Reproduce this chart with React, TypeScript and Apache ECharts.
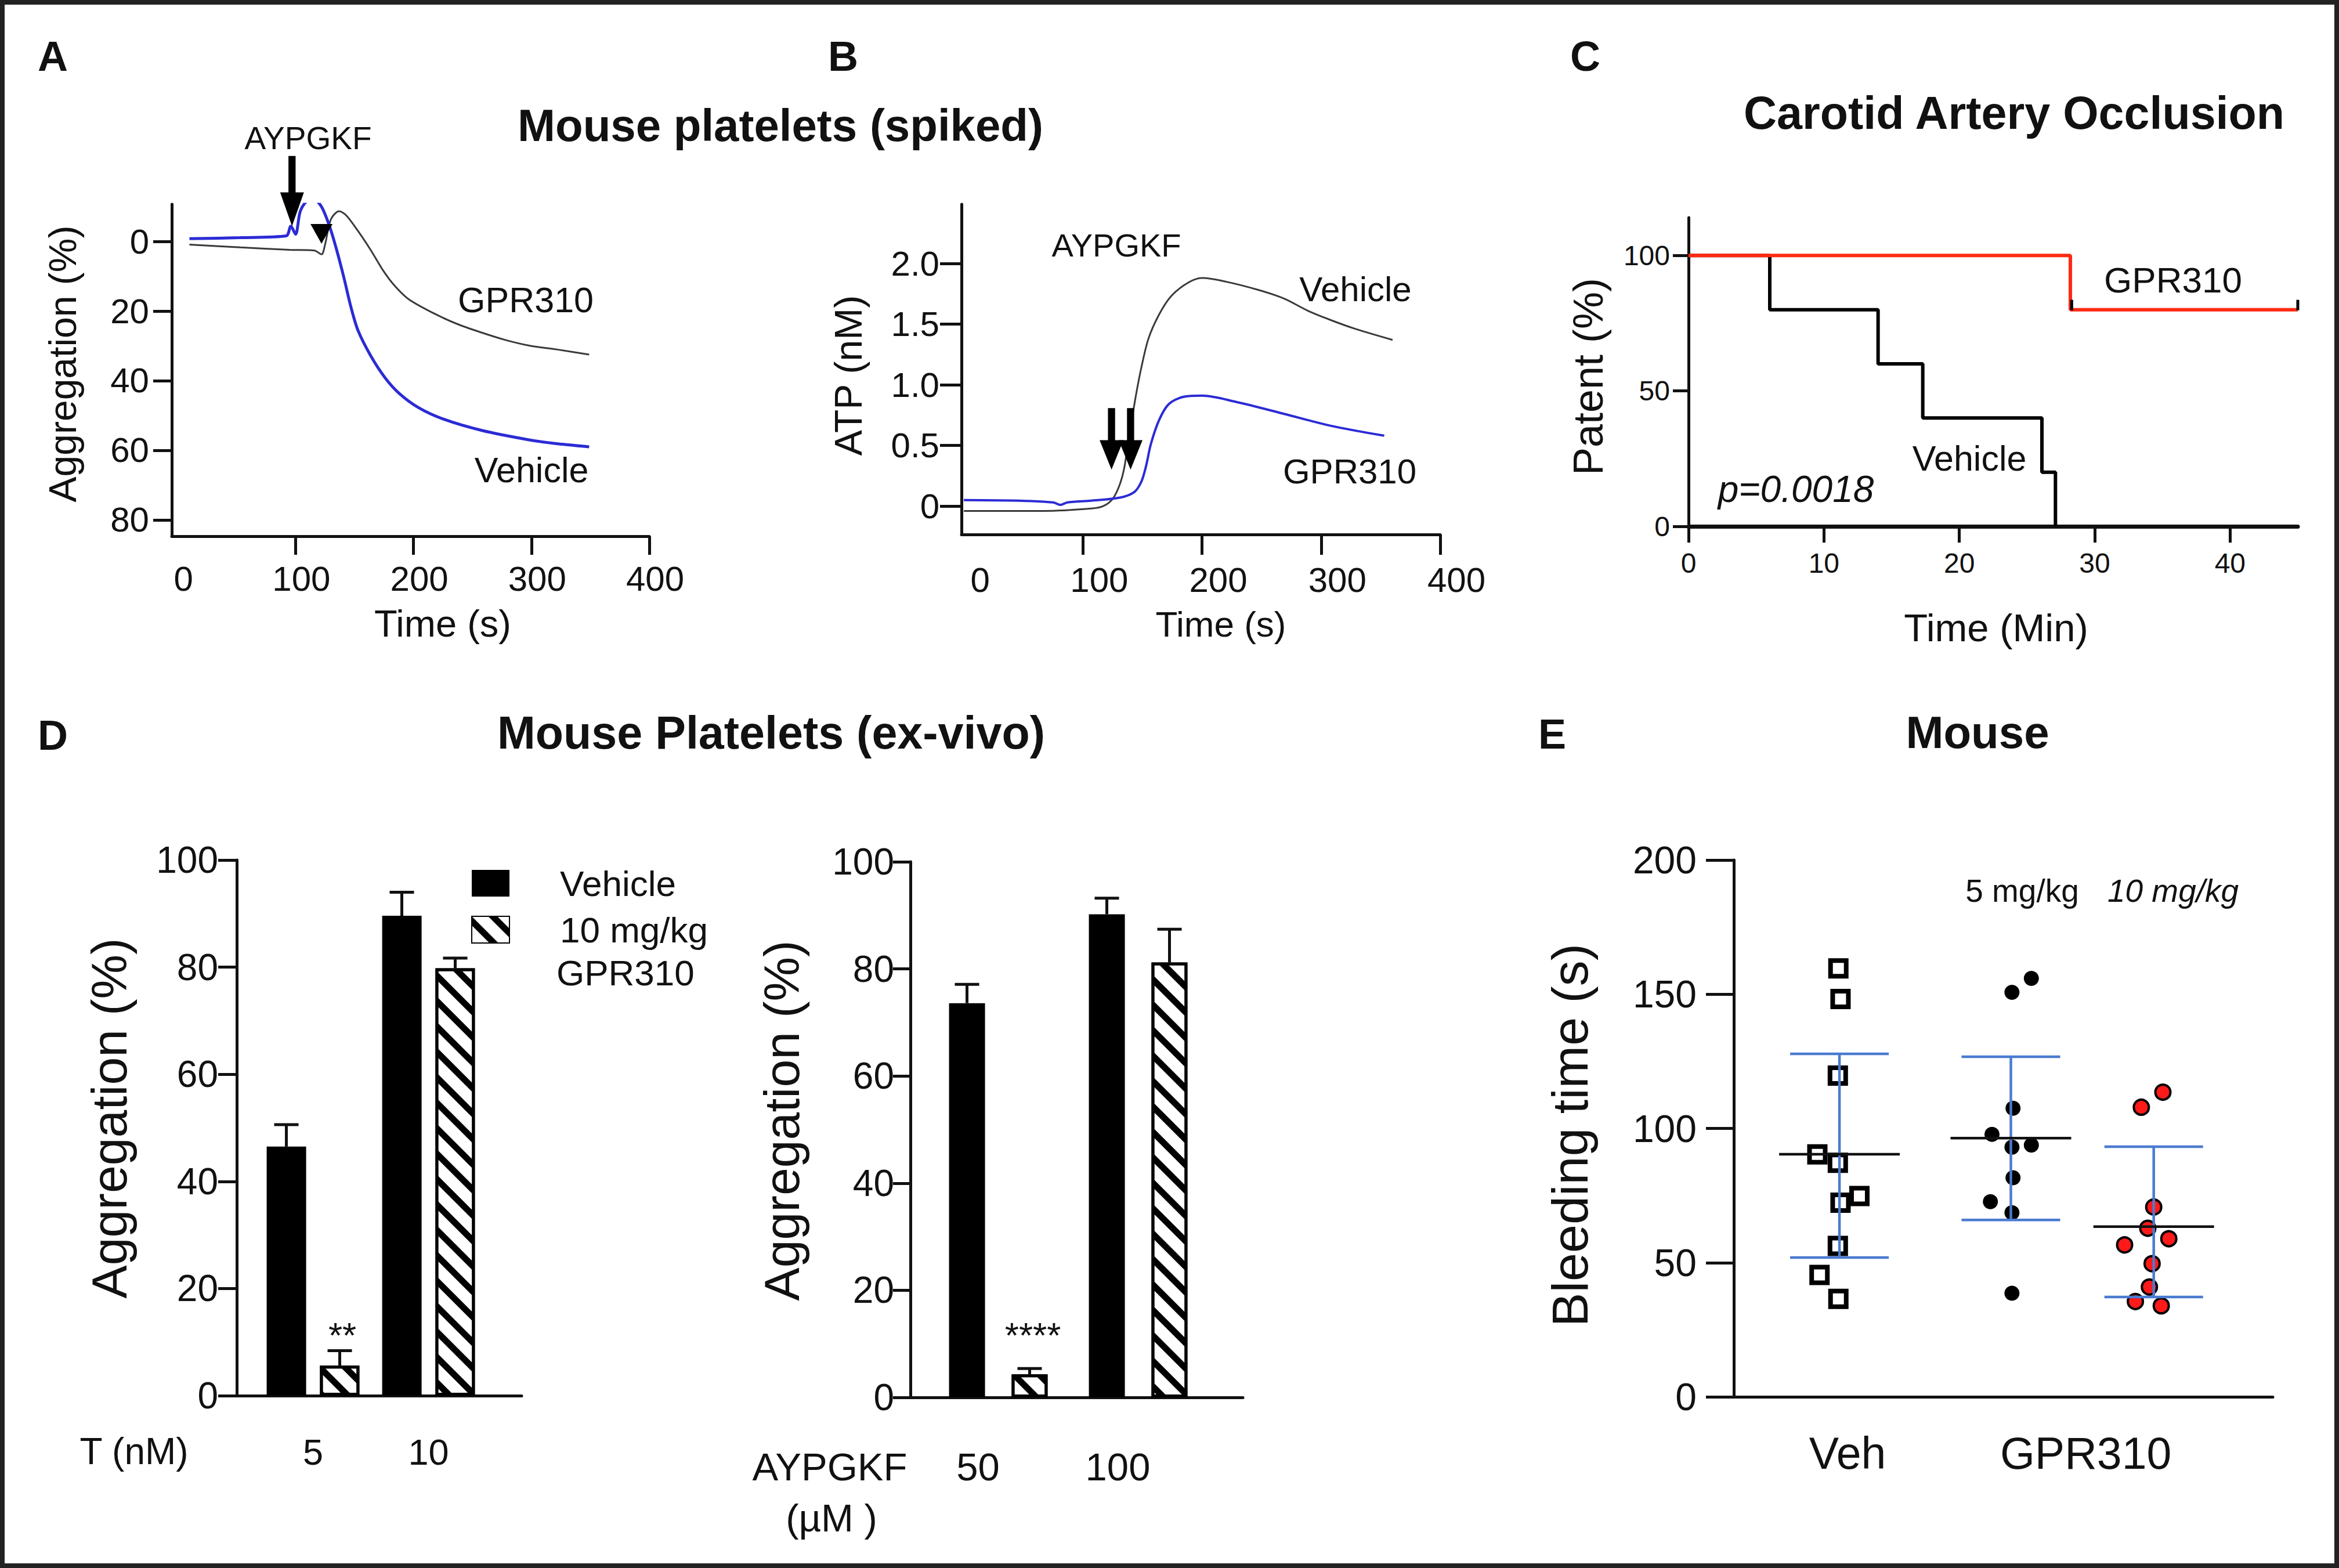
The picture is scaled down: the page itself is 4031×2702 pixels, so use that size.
import React, { useEffect, useRef } from 'react';
import * as echarts from 'echarts';

const FF = "'Liberation Sans', Arial, Helvetica, sans-serif";
const INK = '#111111';
const TRACE_BLUE = '#2b2bd6';
const TRACE_GRAY = '#3a3a3a';
const KM_RED = '#ff2a14';
const SD_BLUE = '#4a7bd0';

// ---------- Panel A: aggregation traces, mouse platelets (spiked) ----------
const aVehTime = [10, 53, 92, 96, 100, 104, 110, 115, 122, 129, 135, 141, 147, 153, 164, 176, 188, 204, 225, 258, 298, 319, 349];
const aVehAgg = [-0.8, -1.1, -1.6, -4.4, -2.1, -8.7, -11.8, -12.2, -10, -4.2, 2.6, 10.4, 18.9, 25.6, 33, 39.2, 43.7, 47.7, 51, 54.3, 57, 58, 59];
const aGprTime = [10, 53, 95, 116, 122, 125, 130, 137, 143, 153, 164, 174, 184, 196, 217, 237, 258, 278, 298, 323, 349];
const aGprAgg = [0.9, 1.7, 2.4, 2.6, 3.7, 0.9, -6.4, -8.7, -7.5, -3, 2.6, 8.2, 12.7, 16.6, 20.6, 23.7, 26.2, 28.3, 29.9, 31.1, 32.5];
const aYTicks = [0, 20, 40, 60, 80];
const aXTicks = [100, 200, 300, 400];
const aXLabels = [0, 100, 200, 300, 400];
const aArrow = [97, -4.5];
const aTriangle = [122, -2.2];

// ---------- Panel B: ATP release ----------
const bVehTime = [0, 67, 107, 117, 125, 131, 135, 138, 141, 145, 149, 155, 164, 174, 188, 200, 220, 248, 269, 289, 309, 329, 360];
const bVehAtp = [-0.04, -0.04, -0.02, 0, 0.06, 0.18, 0.33, 0.54, 0.71, 0.94, 1.14, 1.38, 1.58, 1.73, 1.84, 1.88, 1.85, 1.78, 1.71, 1.61, 1.53, 1.46, 1.37];
const bGprTime = [0, 46, 75, 81, 87, 107, 131, 143, 149, 153, 157, 164, 172, 184, 200, 228, 269, 309, 353];
const bGprAtp = [0.05, 0.045, 0.03, 0.01, 0.03, 0.045, 0.07, 0.115, 0.2, 0.33, 0.51, 0.71, 0.84, 0.9, 0.91, 0.86, 0.76, 0.66, 0.58];
const bYTicks = [0, 0.5, 1.0, 1.5, 2.0];
const bXTicks = [100, 200, 300, 400];
const bXLabels = [0, 100, 200, 300, 400];
const bArrows = [[124, 0.3], [140, 0.3]];

// ---------- Panel C: carotid artery occlusion (Kaplan-Meier) ----------
const cVehTime = [0, 6, 14, 17.3, 26.1, 27.1];
const cVehPatent = [100, 80, 60, 40, 20, 0];
const cGprTime = [0, 28.2, 45];
const cGprPatent = [100, 80, 80];
const cCensorTime = [28.3, 45];
const cCensorPatent = [80, 80];
const cYTicks = [0, 50, 100];
const cXTicks = [0, 10, 20, 30, 40];

// ---------- Panel D: ex-vivo aggregation bars ----------
const dLeftCats = ['5', '10'];
const dLeftVeh = [46.5, 89.6];
const dLeftVehErr = [4.1, 4.4];
const dLeftGpr = [5.6, 79.8];
const dLeftGprErr = [2.8, 1.9];
const dRightCats = ['50', '100'];
const dRightVeh = [73.6, 90.2];
const dRightVehErr = [3.5, 3.0];
const dRightGpr = [4.3, 81.2];
const dRightGprErr = [1.1, 6.2];
const dYTicks = [0, 20, 40, 60, 80, 100];

// ---------- Panel E: bleeding time ----------
const eVehX = [1.94, 1.98, 1.93, 1.55, 1.93, 2.33, 1.98, 1.93, 1.59, 1.94];
const eVehY = [159.6, 148.2, 119.7, 90.3, 87.2, 74.8, 72.3, 56.2, 45.4, 36.5];
const e5X = [5.52, 5.16, 5.18, 4.79, 5.16, 5.52, 5.18, 4.76, 5.16, 5.16];
const e5Y = [155.9, 150.7, 107.5, 97.8, 93.0, 93.8, 81.6, 72.7, 68.6, 38.6];
const e10X = [7.96, 7.56, 7.79, 7.68, 8.07, 7.25, 7.76, 7.71, 7.45, 7.93];
const e10Y = [113.5, 107.9, 70.7, 62.8, 58.9, 56.6, 49.6, 40.9, 35.5, 33.9];
const eGroupX = [1.96, 5.14, 7.79];
const eMean = [90.4, 96.4, 63.4];
const eSdLow = [51.9, 65.9, 37.2];
const eSdHigh = [127.8, 126.7, 93.2];
const eCatLabels = ['Veh', 'GPR310'];
const eCatPos = [2.11, 6.53];
const eYTicks = [0, 50, 100, 150, 200];

const ARROW = 'path://M14,0L26,0L26,52L40,52L20,100L0,52L14,52Z';
const HATCH = {
  symbol: 'rect',
  symbolSize: 1,
  dashArrayX: [1, 0],
  dashArrayY: [11, 20],
  rotation: Math.PI / 4,
  color: '#000',
  backgroundColor: '#fff',
};

const pairs = (xs: number[], ys: number[]) => xs.map((x, i) => [x, ys[i]]);

function valAxis(gridIndex: number, min: number, max: number, o: any = {}) {
  const ax: any = {
    type: 'value',
    gridIndex,
    min,
    max,
    inverse: !!o.inverse,
    splitLine: { show: false },
    axisLine: { show: o.line !== false, onZero: false, lineStyle: { color: INK, width: o.lineWidth || 5 } },
    axisTick: o.ticks
      ? { show: true, inside: false, length: o.tickLen || 30, lineStyle: { color: INK, width: 5 }, customValues: o.ticks }
      : { show: false },
    axisLabel: { show: false },
  };
  if (o.labels) {
    ax.axisLabel = {
      show: true,
      customValues: o.labels,
      fontSize: o.fontSize || 60,
      fontFamily: FF,
      color: INK,
      margin: o.margin ?? 20,
    };
    if (o.padding) ax.axisLabel.padding = o.padding;
    if (o.formatter) ax.axisLabel.formatter = o.formatter;
  }
  return ax;
}

function catAxis(gridIndex: number, data: string[], o: any) {
  const ax: any = {
    type: 'category',
    gridIndex,
    data,
    axisLine: { show: false },
    axisTick: { show: false },
    splitLine: { show: false },
    axisLabel: { show: true, fontSize: o.fontSize, fontFamily: FF, color: INK, margin: o.margin },
  };
  if (o.padding) ax.axisLabel.padding = o.padding;
  return ax;
}

function errSeries(xi: number, vals: number[], errs: number[], dx: number) {
  return {
    type: 'custom',
    xAxisIndex: xi,
    yAxisIndex: xi,
    z: 5,
    silent: true,
    encode: { x: 0, y: 1 },
    data: vals.map((v, i) => [i, v, errs[i]]),
    renderItem: (params: any, api: any) => {
      const base = api.coord([api.value(0), api.value(1)]);
      const tip = api.coord([api.value(0), api.value(1) + api.value(2)]);
      const x = base[0] + dx;
      return {
        type: 'group',
        children: [
          { type: 'line', shape: { x1: x, y1: base[1], x2: x, y2: tip[1] }, style: { stroke: INK, lineWidth: 5 } },
          { type: 'line', shape: { x1: x - 21, y1: tip[1], x2: x + 21, y2: tip[1] }, style: { stroke: INK, lineWidth: 5 } },
        ],
      };
    },
  };
}

function T(text: string, x: number, y: number, size: number, extra: any = {}) {
  return {
    type: 'text',
    x,
    y,
    silent: true,
    rotation: extra.rot ? Math.PI / 2 : 0,
    style: {
      text,
      fontSize: size,
      fontFamily: FF,
      fontWeight: extra.bold ? 'bold' : 'normal',
      fontStyle: extra.italic ? 'italic' : 'normal',
      fill: INK,
      align: extra.align || 'center',
      verticalAlign: 'middle',
    },
  };
}

function buildOption() {
  const grids = [
    { left: 296, top: 352, width: 823, height: 572 }, // A
    { left: 1657, top: 352, width: 825, height: 569 }, // B
    { left: 2910, top: 375, width: 1050, height: 532 }, // C
    { left: 408, top: 1482, width: 491, height: 923 }, // D left frame
    { left: 440, top: 1482, width: 398, height: 923 }, // D left bars
    { left: 1569, top: 1485, width: 573, height: 923 }, // D right frame
    { left: 1600, top: 1485, width: 482, height: 923 }, // D right bars
    { left: 2988, top: 1482, width: 929, height: 925 }, // E
  ].map((g) => ({ ...g, containLabel: false, outerBoundsMode: 'none' }));

  const xAxis = [
    valAxis(0, -5, 400, { ticks: aXTicks, labels: aXLabels, tickLen: 32, margin: 43, padding: [0, 0, 0, 20] }),
    valAxis(1, -2, 400, { ticks: bXTicks, labels: bXLabels, tickLen: 35, margin: 48, padding: [0, 0, 0, 56] }),
    valAxis(2, 0, 45, { ticks: cXTicks, labels: cXTicks, tickLen: 28, margin: 39, fontSize: 48, lineWidth: 7 }),
    valAxis(3, 0, 1, {}),
    catAxis(4, dLeftCats, { fontSize: 63, margin: 65 }),
    valAxis(5, 0, 1, {}),
    catAxis(6, dRightCats, { fontSize: 67, margin: 86, padding: [0, 70, 0, 0] }),
    valAxis(7, 0, 10, {
      labels: eCatPos,
      fontSize: 77,
      margin: 58,
      formatter: (v: number) => {
        let best = 0;
        eCatPos.forEach((p, i) => {
          if (Math.abs(p - v) < Math.abs(eCatPos[best] - v)) best = i;
        });
        return eCatLabels[best];
      },
    }),
  ];

  const yAxis = [
    valAxis(0, -10.7, 84.7, { inverse: true, ticks: aYTicks, labels: aYTicks, tickLen: 32, margin: 39 }),
    valAxis(1, -0.234, 2.488, {
      ticks: bYTicks,
      labels: bYTicks,
      tickLen: 37,
      margin: 38,
      formatter: (v: number) => (v === 0 ? '0' : v.toFixed(1)),
    }),
    valAxis(2, 0, 114, { ticks: cYTicks, labels: cYTicks, tickLen: 27, margin: 32, fontSize: 48 }),
    valAxis(3, 0, 100, { ticks: dYTicks, labels: dYTicks, tickLen: 32, margin: 32, fontSize: 64 }),
    valAxis(4, 0, 100, { line: false }),
    valAxis(5, 0, 100, { ticks: dYTicks, labels: dYTicks, tickLen: 30, margin: 28, fontSize: 64 }),
    valAxis(6, 0, 100, { line: false }),
    valAxis(7, 0, 200, { ticks: eYTicks, labels: eYTicks, tickLen: 48, margin: 64, fontSize: 66 }),
  ];

  const series: any[] = [
    // Panel A
    {
      type: 'line', name: 'A GPR310', xAxisIndex: 0, yAxisIndex: 0, silent: true,
      data: pairs(aGprTime, aGprAgg), showSymbol: false, smooth: 0.3,
      lineStyle: { color: TRACE_GRAY, width: 3 }, z: 2,
    },
    {
      type: 'line', name: 'A Vehicle', xAxisIndex: 0, yAxisIndex: 0, silent: true,
      data: pairs(aVehTime, aVehAgg), showSymbol: false, smooth: 0.3,
      lineStyle: { color: TRACE_BLUE, width: 5 }, z: 3,
      markPoint: {
        silent: true,
        label: { show: false },
        data: [
          { coord: aArrow, symbol: ARROW, symbolSize: [41, 121], symbolOffset: [0, -60], itemStyle: { color: '#000' } },
          { coord: aTriangle, symbol: 'triangle', symbolSize: [38, 34], symbolRotate: 180, itemStyle: { color: '#000' } },
        ],
      },
    },
    // Panel B
    {
      type: 'line', name: 'B Vehicle', xAxisIndex: 1, yAxisIndex: 1, silent: true,
      data: pairs(bVehTime, bVehAtp), showSymbol: false, smooth: 0.3,
      lineStyle: { color: TRACE_GRAY, width: 3 }, z: 2,
    },
    {
      type: 'line', name: 'B GPR310', xAxisIndex: 1, yAxisIndex: 1, silent: true,
      data: pairs(bGprTime, bGprAtp), showSymbol: false, smooth: 0.3,
      lineStyle: { color: TRACE_BLUE, width: 4 }, z: 3,
      markPoint: {
        silent: true,
        label: { show: false },
        data: bArrows.map((c) => ({
          coord: c, symbol: ARROW, symbolSize: [41, 106], symbolOffset: [0, -53], itemStyle: { color: '#000' },
        })),
      },
    },
    // Panel C
    {
      type: 'line', name: 'C Vehicle', xAxisIndex: 2, yAxisIndex: 2, silent: true, step: 'end',
      data: pairs(cVehTime, cVehPatent), showSymbol: false,
      lineStyle: { color: '#000', width: 6 }, z: 2,
    },
    {
      type: 'line', name: 'C GPR310', xAxisIndex: 2, yAxisIndex: 2, silent: true, step: 'end',
      data: pairs(cGprTime, cGprPatent), showSymbol: false,
      lineStyle: { color: KM_RED, width: 6 }, z: 3,
    },
    {
      type: 'scatter', name: 'C censored', xAxisIndex: 2, yAxisIndex: 2, silent: true,
      data: pairs(cCensorTime, cCensorPatent), symbol: 'rect', symbolSize: [5, 18], symbolOffset: [0, -8],
      itemStyle: { color: '#000', opacity: 1 }, z: 4,
    },
    // Panel D left
    {
      type: 'bar', name: 'Vehicle', xAxisIndex: 4, yAxisIndex: 4, silent: true,
      data: dLeftVeh, barWidth: 68, barGap: '35%', itemStyle: { color: '#000' },
    },
    {
      type: 'bar', name: '10 mg/kg', xAxisIndex: 4, yAxisIndex: 4, silent: true,
      data: dLeftGpr, barWidth: 68, barGap: '35%',
      itemStyle: { color: '#fff', borderColor: '#000', borderWidth: 5, decal: HATCH },
    },
    errSeries(4, dLeftVeh, dLeftVehErr, -46),
    errSeries(4, dLeftGpr, dLeftGprErr, 46),
    // Panel D right
    {
      type: 'bar', name: 'Vehicle', xAxisIndex: 6, yAxisIndex: 6, silent: true,
      data: dRightVeh, barWidth: 62, barGap: '74%', itemStyle: { color: '#000' },
    },
    {
      type: 'bar', name: '10 mg/kg', xAxisIndex: 6, yAxisIndex: 6, silent: true,
      data: dRightGpr, barWidth: 62, barGap: '74%',
      itemStyle: { color: '#fff', borderColor: '#000', borderWidth: 5, decal: HATCH },
    },
    errSeries(6, dRightVeh, dRightVehErr, -54),
    errSeries(6, dRightGpr, dRightGprErr, 54),
    // Panel E
    {
      type: 'scatter', name: 'E Veh', xAxisIndex: 7, yAxisIndex: 7, silent: true,
      data: pairs(eVehX, eVehY), symbol: 'rect', symbolSize: 27,
      itemStyle: { color: '#fff', borderColor: '#000', borderWidth: 8, opacity: 1 }, z: 3,
    },
    {
      type: 'scatter', name: 'E 5 mg/kg', xAxisIndex: 7, yAxisIndex: 7, silent: true,
      data: pairs(e5X, e5Y), symbol: 'circle', symbolSize: 26,
      itemStyle: { color: '#000', opacity: 1 }, z: 3,
    },
    {
      type: 'scatter', name: 'E 10 mg/kg', xAxisIndex: 7, yAxisIndex: 7, silent: true,
      data: pairs(e10X, e10Y), symbol: 'circle', symbolSize: 26,
      itemStyle: { color: '#ff1a1a', borderColor: '#000', borderWidth: 4, opacity: 1 }, z: 3,
    },
    {
      type: 'custom', name: 'E mean SD', xAxisIndex: 7, yAxisIndex: 7, silent: true, z: 4,
      encode: { x: 0, y: [1, 2, 3] },
      data: eGroupX.map((x, i) => [x, eMean[i], eSdLow[i], eSdHigh[i]]),
      renderItem: (params: any, api: any) => {
        const m = api.coord([api.value(0), api.value(1)]);
        const lo = api.coord([api.value(0), api.value(2)]);
        const hi = api.coord([api.value(0), api.value(3)]);
        const blue = { stroke: SD_BLUE, lineWidth: 4.5 };
        return {
          type: 'group',
          children: [
            { type: 'line', shape: { x1: m[0], y1: hi[1], x2: m[0], y2: lo[1] }, style: blue },
            { type: 'line', shape: { x1: m[0] - 85, y1: hi[1], x2: m[0] + 85, y2: hi[1] }, style: blue },
            { type: 'line', shape: { x1: m[0] - 85, y1: lo[1], x2: m[0] + 85, y2: lo[1] }, style: blue },
            { type: 'line', shape: { x1: m[0] - 104, y1: m[1], x2: m[0] + 104, y2: m[1] }, style: { stroke: '#111', lineWidth: 4.5 } },
          ],
        };
      },
    },
  ];

  const texts = [
    T('A', 91, 97, 72, { bold: true }),
    T('B', 1453, 97, 72, { bold: true }),
    T('C', 2732, 97, 72, { bold: true }),
    T('D', 91, 1267, 72, { bold: true }),
    T('E', 2675, 1265, 72, { bold: true }),
    T('Mouse platelets (spiked)', 1345, 216, 78, { bold: true }),
    T('AYPGKF', 531, 238, 55),
    T('GPR310', 906, 517, 61),
    T('Vehicle', 916, 810, 61),
    T('Time (s)', 763, 1074, 65),
    T('Aggregation (%)', 108, 627, 66, { rot: true }),
    T('AYPGKF', 1924, 422, 56),
    T('Vehicle', 2336, 498, 60),
    T('GPR310', 2326, 812, 60),
    T('Time (s)', 2104, 1075, 62),
    T('ATP (nM)', 1462, 647, 66, { rot: true }),
    T('Carotid Artery Occlusion', 3471, 194, 79, { bold: true }),
    T('GPR310', 3745, 482, 62),
    T('Vehicle', 3394, 790, 61),
    T('p=0.0018', 3095, 843, 64, { italic: true }),
    T('Patent (%)', 2737, 649, 72, { rot: true }),
    T('Time (Min)', 3440, 1081, 67),
    T('Mouse Platelets (ex-vivo)', 1329, 1262, 79, { bold: true }),
    T('Aggregation (%)', 188, 1927, 86, { rot: true }),
    T('Aggregation (%)', 1347, 1931, 86, { rot: true }),
    T('T (nM)', 231, 2501, 64),
    T('AYPGKF', 1430, 2527, 67),
    T('(µM )', 1433, 2615, 67),
    T('**', 590, 2300, 62),
    T('****', 1780, 2300, 62),
    T('GPR310', 959, 1676, 62, { align: 'left' }),
    T('Mouse', 3408, 1262, 78, { bold: true }),
    T('Bleeding time (s)', 2705, 1956, 88, { rot: true }),
    T('5 mg/kg', 3485, 1535, 55),
    T('10 mg/kg', 3745, 1535, 55, { italic: true }),
  ];

  return {
    animation: false,
    backgroundColor: '#ffffff',
    textStyle: { fontFamily: FF },
    grid: grids,
    xAxis,
    yAxis,
    legend: {
      data: ['Vehicle', '10 mg/kg'],
      left: 807,
      top: 1486,
      orient: 'vertical',
      icon: 'rect',
      itemWidth: 65,
      itemHeight: 46,
      itemGap: 18,
      selectedMode: false,
      textStyle: { fontSize: 62, lineHeight: 62, fontFamily: FF, color: INK, padding: [0, 0, 0, 82] },
    },
    series,
    graphic: {
      elements: [
        {
          type: 'rect',
          silent: true,
          shape: { x: 4, y: 4, width: 4023, height: 2694 },
          style: { fill: 'none', stroke: '#222', lineWidth: 8 },
        },
        ...texts,
      ],
    },
  };
}

export default function App() {
  const ref = useRef<HTMLDivElement>(null);
  useEffect(() => {
    document.body.style.margin = '0';
    document.body.style.overflow = 'hidden';
    const chart = echarts.init(ref.current as HTMLDivElement, undefined, { renderer: 'svg' });
    chart.setOption(buildOption() as any);
    return () => chart.dispose();
  }, []);
  return <div ref={ref} style={{ width: 4031, height: 2702, background: '#fff' }} />;
}
